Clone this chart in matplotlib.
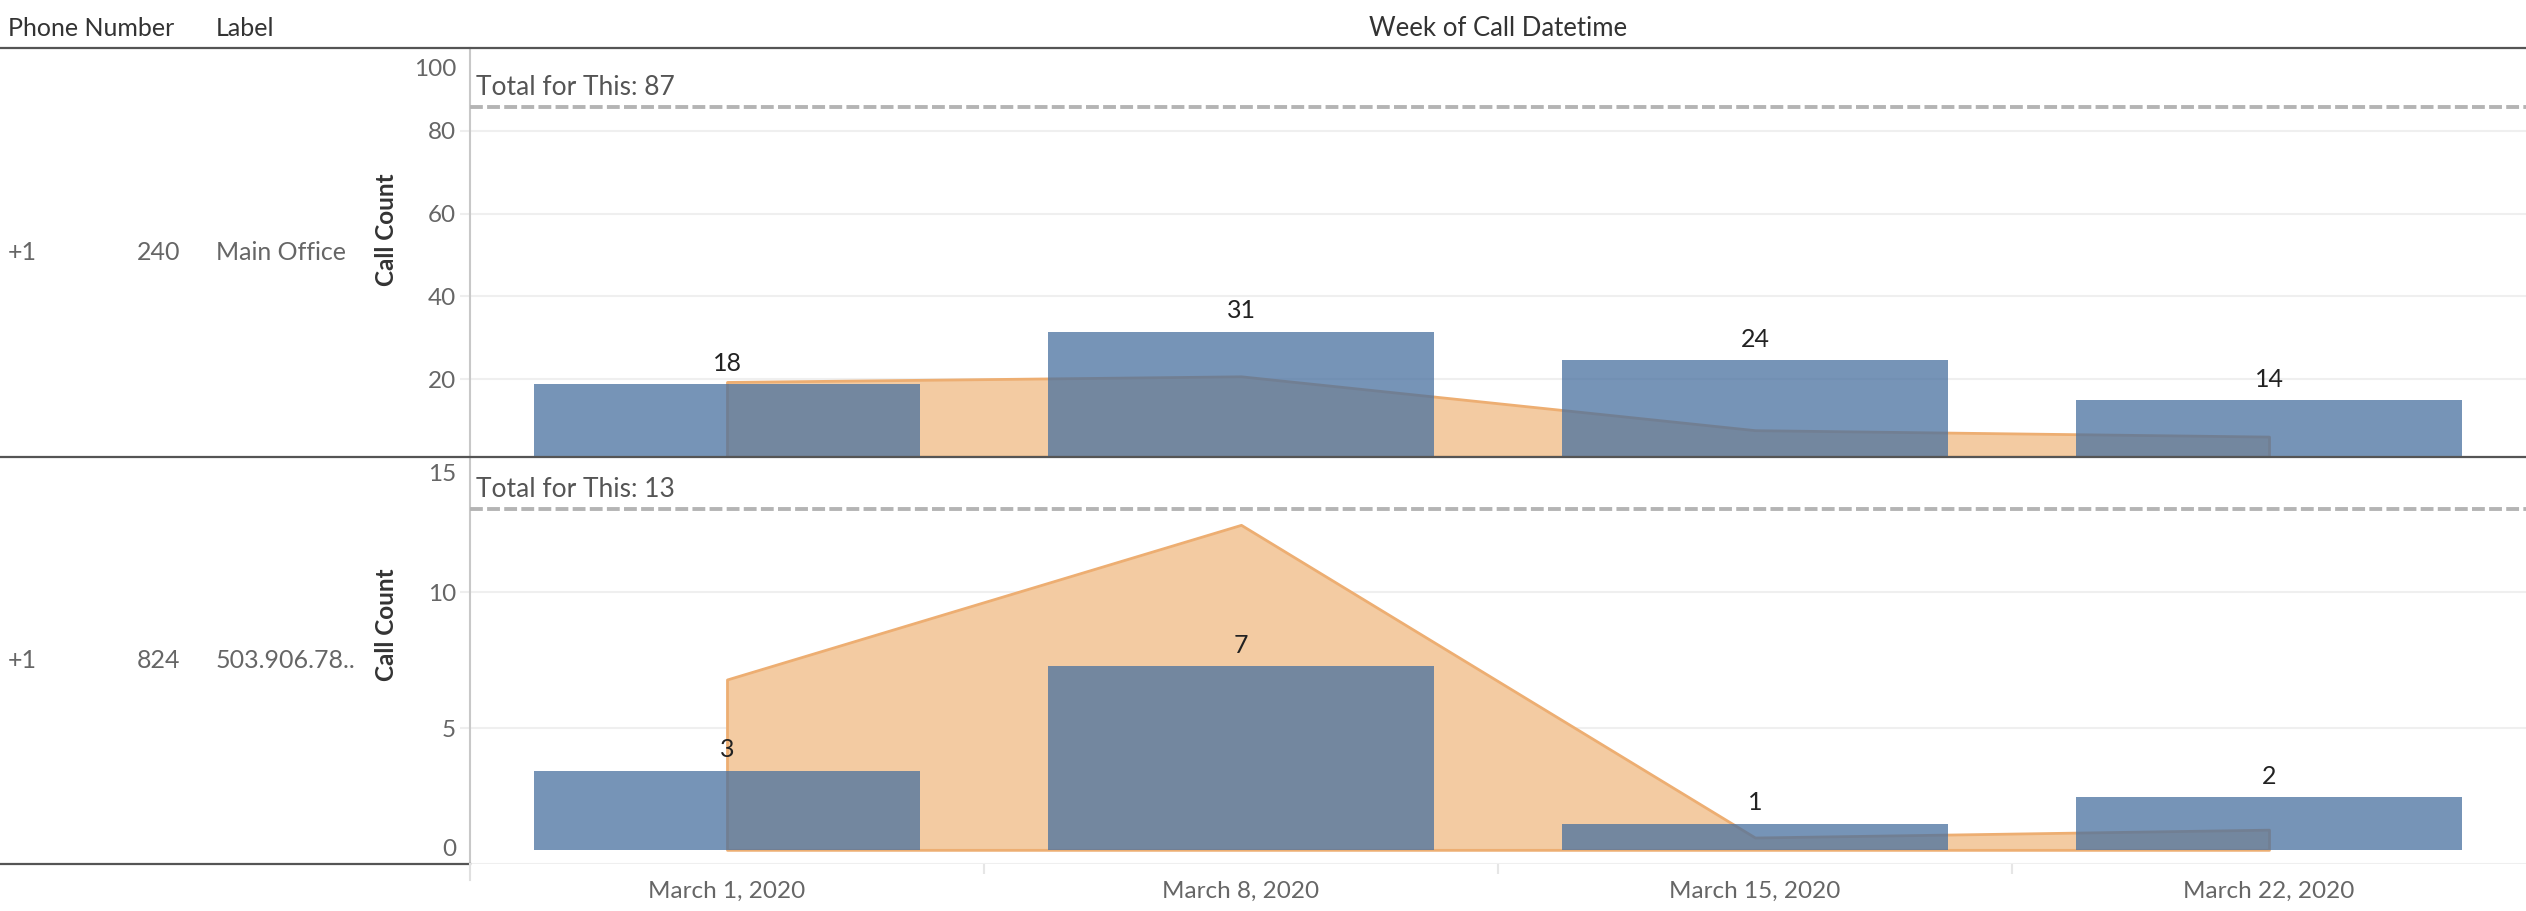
import matplotlib
matplotlib.use("Agg")
import matplotlib.pyplot as plt
from matplotlib.lines import Line2D
from matplotlib.transforms import ScaledTranslation

plt.rcParams['font.family'] = ['Lato', 'DejaVu Sans']

weeks = ["March 1, 2020", "March 8, 2020", "March 15, 2020", "March 22, 2020"]
rows = [("+1", "240", "Main Office"), ("+1", "824", "503.906.78..")]
calls_main = [18, 31, 24, 14]
calls_other = [3, 7, 1, 2]
area_main = [18.6, 20.0, 6.6, 5.0]
area_other = [6.5, 12.4, 0.47, 0.77]
totals = [87, 13]
ticks_main = [20, 40, 60, 80, 100]
ticks_other = [0, 5, 10, 15]

W, H = 2526, 911
fig = plt.figure(figsize=(W / 100, H / 100), dpi=100)

L = 470 / W
y_head = 1 - 48 / H
y_mid = 1 - 456.7 / H
y_bot = 1 - 864 / H

bar_col = '#48709F'
ora_fill = '#F3CBA2'
ora_edge = '#EDAE72'
grey_txt = '#666666'

ax_top = fig.add_axes([L, y_mid, 1 - L, y_head - y_mid])
ax_bot = fig.add_axes([L, y_bot, 1 - L, y_mid - y_bot])

x = list(range(len(weeks)))
panels = [
    (ax_top, calls_main, area_main, totals[0], ticks_main, (1.23, 100), (0, 101.7)),
    (ax_bot, calls_other, area_other, totals[1], ticks_other, (0, 15), (-0.54, 15.0)),
]

for ax, calls, area, tot, ticks, ylim, ylim2 in panels:
    ax.set_xlim(-0.5, 3.5)
    ax.set_ylim(*ylim)
    ax.set_yticks(ticks)
    ax.set_yticklabels([str(t) for t in ticks])
    ax.grid(axis='y', color='#efefef', lw=1.5)
    ax.set_axisbelow(True)
    for s in ['top', 'right', 'bottom']:
        ax.spines[s].set_visible(False)
    ax.spines['left'].set_color('#c8c8c8')
    ax.spines['left'].set_linewidth(1.5)
    ax.tick_params(axis='y', length=7, color='#eeeeee', width=1.5, pad=3,
                   labelsize=17.5, labelcolor=grey_txt)

    # bars, area and total line sit on their own (dual) axis
    ax2 = ax.twinx()
    ax2.set_ylim(*ylim2)
    ax2.set_xlim(-0.5, 3.5)
    ax2.axis('off')
    ax2.fill_between(x, area, 0, facecolor=ora_fill,
                     edgecolor=ora_edge, linewidth=2, zorder=2)
    bars = ax2.bar(x, calls, width=0.75, color=bar_col, alpha=0.75, zorder=3)
    ax2.bar_label(bars, padding=7, fontsize=18, color='#222222')
    ax2.axhline(tot, color='#b4b4b4', lw=2.8, dashes=(3.3, 1.1), zorder=4)
    ax2.annotate(f"Total for This: {tot}", xy=(0.003, tot),
                 xycoords=('axes fraction', 'data'), xytext=(0, 5),
                 textcoords='offset points', ha='left', va='bottom',
                 fontsize=19, color='#555555')

# edge tick labels sit inside the pane
def nudge(tick, va, dy):
    lab = tick.label1
    lab.set_va(va)
    lab.set_transform(lab.get_transform() + ScaledTranslation(0, dy / 72, fig.dpi_scale_trans))

nudge(ax_top.yaxis.get_major_ticks()[-1], 'top', -8)
nudge(ax_bot.yaxis.get_major_ticks()[-1], 'top', -5)
nudge(ax_bot.yaxis.get_major_ticks()[0], 'bottom', 3)

ax_top.set_xticks([])
ax_bot.set_xticks(x)
ax_bot.set_xticklabels(weeks)
ax_bot.set_xticks([0.5, 1.5, 2.5], minor=True)
ax_bot.tick_params(axis='x', which='major', length=0, pad=12,
                   labelsize=17.5, labelcolor=grey_txt)
ax_bot.tick_params(axis='x', which='minor', length=7, color='#e6e6e6', width=1.5)

# table lines
fig.add_artist(Line2D([0, 1], [y_head, y_head], color='#555555', lw=1.6))
fig.add_artist(Line2D([0, 1], [y_mid, y_mid], color='#555555', lw=1.6))
fig.add_artist(Line2D([0, L], [y_bot, y_bot], color='#555555', lw=1.6))
fig.add_artist(Line2D([L, L], [y_bot, y_bot - 16 / H], color='#e0e0e0', lw=1.5))

# headers
fig.text(8 / W, 1 - 29 / H, "Phone Number", fontsize=18, color='#333333', va='center')
fig.text(216 / W, 1 - 29 / H, "Label", fontsize=18, color='#333333', va='center')
fig.text((L + 1) / 2, 1 - 29 / H, "Week of Call Datetime", fontsize=18.5,
         color='#333333', va='center', ha='center')

# row labels
for (cc, tail, lab), (y0, y1) in zip(rows, [(y_mid, y_head), (y_bot, y_mid)]):
    yc = (y0 + y1) / 2
    fig.text(8 / W, yc, cc, fontsize=18, color=grey_txt, va='center')
    fig.text(180 / W, yc, tail, fontsize=18, color=grey_txt, va='center', ha='right')
    fig.text(216 / W, yc, lab, fontsize=18, color=grey_txt, va='center')

fig.text(387 / W, 1 - 230 / H, "Call Count", rotation=90, fontsize=17.5,
         fontweight='bold', color='#333333', va='center', ha='center')
fig.text(387 / W, 1 - 625 / H, "Call Count", rotation=90, fontsize=17.5,
         fontweight='bold', color='#333333', va='center', ha='center')

fig.savefig("out.png", dpi=100)
